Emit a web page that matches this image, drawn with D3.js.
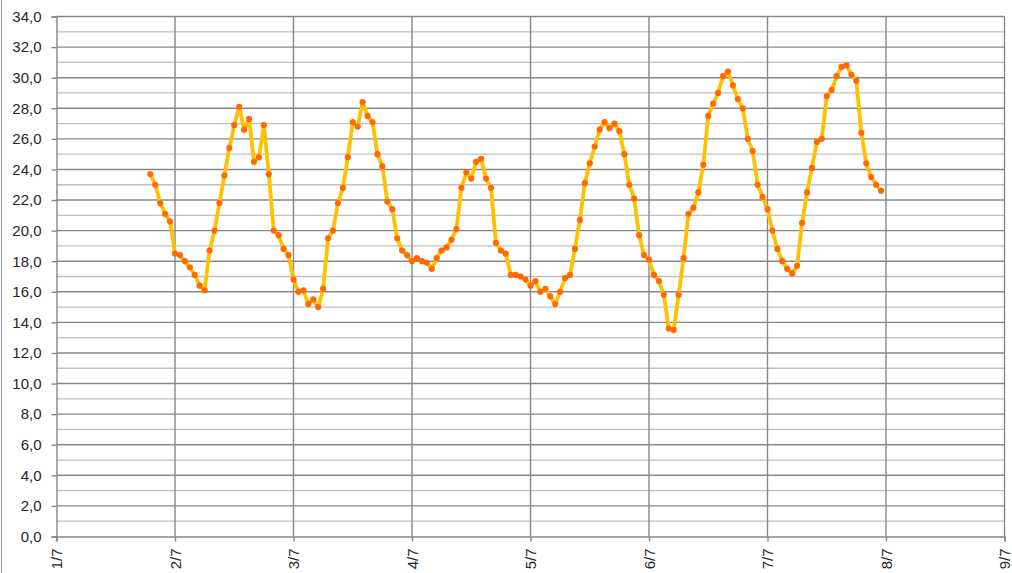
<!DOCTYPE html>
<html>
<head>
<meta charset="utf-8">
<script src="https://cdn.jsdelivr.net/npm/d3@7"></script>
<style>
  html, body { margin: 0; padding: 0; background: #fff; }
  svg { display: block; font-family: "Liberation Sans", Arial, sans-serif; }
</style>
</head>
<body>
<svg id="chart" width="1012" height="573"></svg>
<script>
// ---- data: hourly readings, first value at 1/7 19:00 ----
const startDay = 1;      // 1 July
const startHour = 19;    // 19:00
const day1 = [23.7, 23.0, 21.8, 21.1, 20.6];
const day2 = [18.5, 18.4, 18.0, 17.6, 17.1, 16.4, 16.1, 18.7, 20.0, 21.8, 23.6, 25.4,
              26.9, 28.1, 26.6, 27.3, 24.5, 24.8, 26.9, 23.7, 20.0, 19.7, 18.8, 18.4];
const day3 = [16.8, 16.0, 16.1, 15.2, 15.5, 15.0, 16.2, 19.5, 20.0, 21.8, 22.8, 24.8,
              27.1, 26.8, 28.4, 27.5, 27.1, 25.0, 24.2, 21.9, 21.4, 19.5, 18.7, 18.4];
const day4 = [18.0, 18.2, 18.0, 17.9, 17.5, 18.2, 18.7, 18.9, 19.4, 20.1, 22.8, 23.8,
              23.4, 24.5, 24.7, 23.4, 22.8, 19.2, 18.7, 18.5, 17.1, 17.1, 17.0, 16.8];
const day5 = [16.4, 16.7, 16.0, 16.2, 15.7, 15.2, 16.0, 16.9, 17.1, 18.8, 20.7, 23.1,
              24.4, 25.5, 26.6, 27.1, 26.7, 27.0, 26.5, 25.0, 23.0, 22.1, 19.7, 18.4];
const day6 = [18.1, 17.1, 16.7, 15.8, 13.6, 13.5, 15.8, 18.2, 21.1, 21.5, 22.5, 24.3,
              27.5, 28.3, 29.0, 30.1, 30.4, 29.5, 28.6, 28.0, 26.0, 25.2, 23.0, 22.2];
const day7 = [21.4, 20.0, 18.8, 18.0, 17.5, 17.2, 17.7, 20.5, 22.5, 24.1, 25.8, 26.0,
              28.8, 29.2, 30.1, 30.7, 30.8, 30.2, 29.8, 26.4, 24.4, 23.5, 23.0, 22.6];

const xTickLabels = ["1/7", "2/7", "3/7", "4/7", "5/7", "6/7", "7/7", "8/7", "9/7"];
const yTicks = d3.range(0, 34.01, 2);

const values = [].concat(day1, day2, day3, day4, day5, day6, day7);
const data = values.map((v, i) => ({
  t: new Date(Date.UTC(2013, 6, startDay, startHour + i)),
  v: v
}));

// ---- chart ----
const svg = d3.select("#chart");
const x = d3.scaleUtc()
  .domain([new Date(Date.UTC(2013, 6, 1)), new Date(Date.UTC(2013, 6, 9))])
  .range([56.5, 1004.5]);
const y = d3.scaleLinear().domain([0, 34]).range([536.5, 16.5]);

// outer chart border (left edge)
svg.append("line")
  .attr("x1", 1.5).attr("x2", 1.5).attr("y1", 0).attr("y2", 573)
  .attr("stroke", "#9a9a9a").attr("stroke-width", 1);

const dayTicks = xTickLabels.map((d, i) => new Date(Date.UTC(2013, 6, 1 + i)));

// minor horizontal gridlines
svg.append("g")
  .selectAll("line")
  .data(d3.range(1, 34, 2))
  .join("line")
  .attr("x1", x.range()[0]).attr("x2", x.range()[1])
  .attr("y1", d => y(d)).attr("y2", d => y(d))
  .attr("stroke", "#bfbfbf").attr("stroke-width", 1.3);

// major horizontal gridlines
svg.append("g")
  .selectAll("line")
  .data(yTicks.slice(1))
  .join("line")
  .attr("x1", x.range()[0]).attr("x2", x.range()[1])
  .attr("y1", d => y(d)).attr("y2", d => y(d))
  .attr("stroke", "#878787").attr("stroke-width", 1.4);

// vertical day gridlines
svg.append("g")
  .selectAll("line")
  .data(dayTicks.slice(1))
  .join("line")
  .attr("x1", d => x(d)).attr("x2", d => x(d))
  .attr("y1", y(34)).attr("y2", y(0))
  .attr("stroke", "#878787").attr("stroke-width", 1.4);

// y axis
const yAxis = svg.append("g")
  .attr("transform", `translate(${x.range()[0]},0)`)
  .call(d3.axisLeft(y).tickValues(yTicks).tickSize(5).tickPadding(10)
    .tickFormat(d => d3.format(".1f")(d).replace(".", ",")));
yAxis.select(".domain").attr("stroke", "#878787").attr("stroke-width", 1.4);
yAxis.selectAll(".tick line").attr("stroke", "#878787").attr("stroke-width", 1.4);
yAxis.selectAll("text").attr("fill", "#262626").style("font-size", "15px");

// x axis
const xAxis = svg.append("g")
  .attr("transform", `translate(0,${y(0)})`)
  .call(d3.axisBottom(x).tickValues(dayTicks).tickSize(5)
    .tickFormat((d, i) => xTickLabels[i]));
xAxis.select(".domain").attr("stroke", "#878787").attr("stroke-width", 1.4);
xAxis.selectAll(".tick line").attr("stroke", "#878787").attr("stroke-width", 1.4);
xAxis.selectAll("text")
  .attr("fill", "#262626").style("font-size", "15px")
  .attr("transform", "rotate(-90)")
  .attr("text-anchor", "end")
  .attr("x", -12).attr("y", 0).attr("dy", "0.35em");

// series line
const line = d3.line().x(d => x(d.t)).y(d => y(d.v));
svg.append("path")
  .datum(data)
  .attr("fill", "none")
  .attr("stroke", "#ffc000")
  .attr("stroke-width", 3.8)
  .attr("stroke-linejoin", "round")
  .attr("d", line);

// markers
svg.append("g")
  .selectAll("circle")
  .data(data)
  .join("circle")
  .attr("cx", d => x(d.t))
  .attr("cy", d => y(d.v))
  .attr("r", 3.1)
  .attr("fill", "#ff6a00");
</script>
</body>
</html>
